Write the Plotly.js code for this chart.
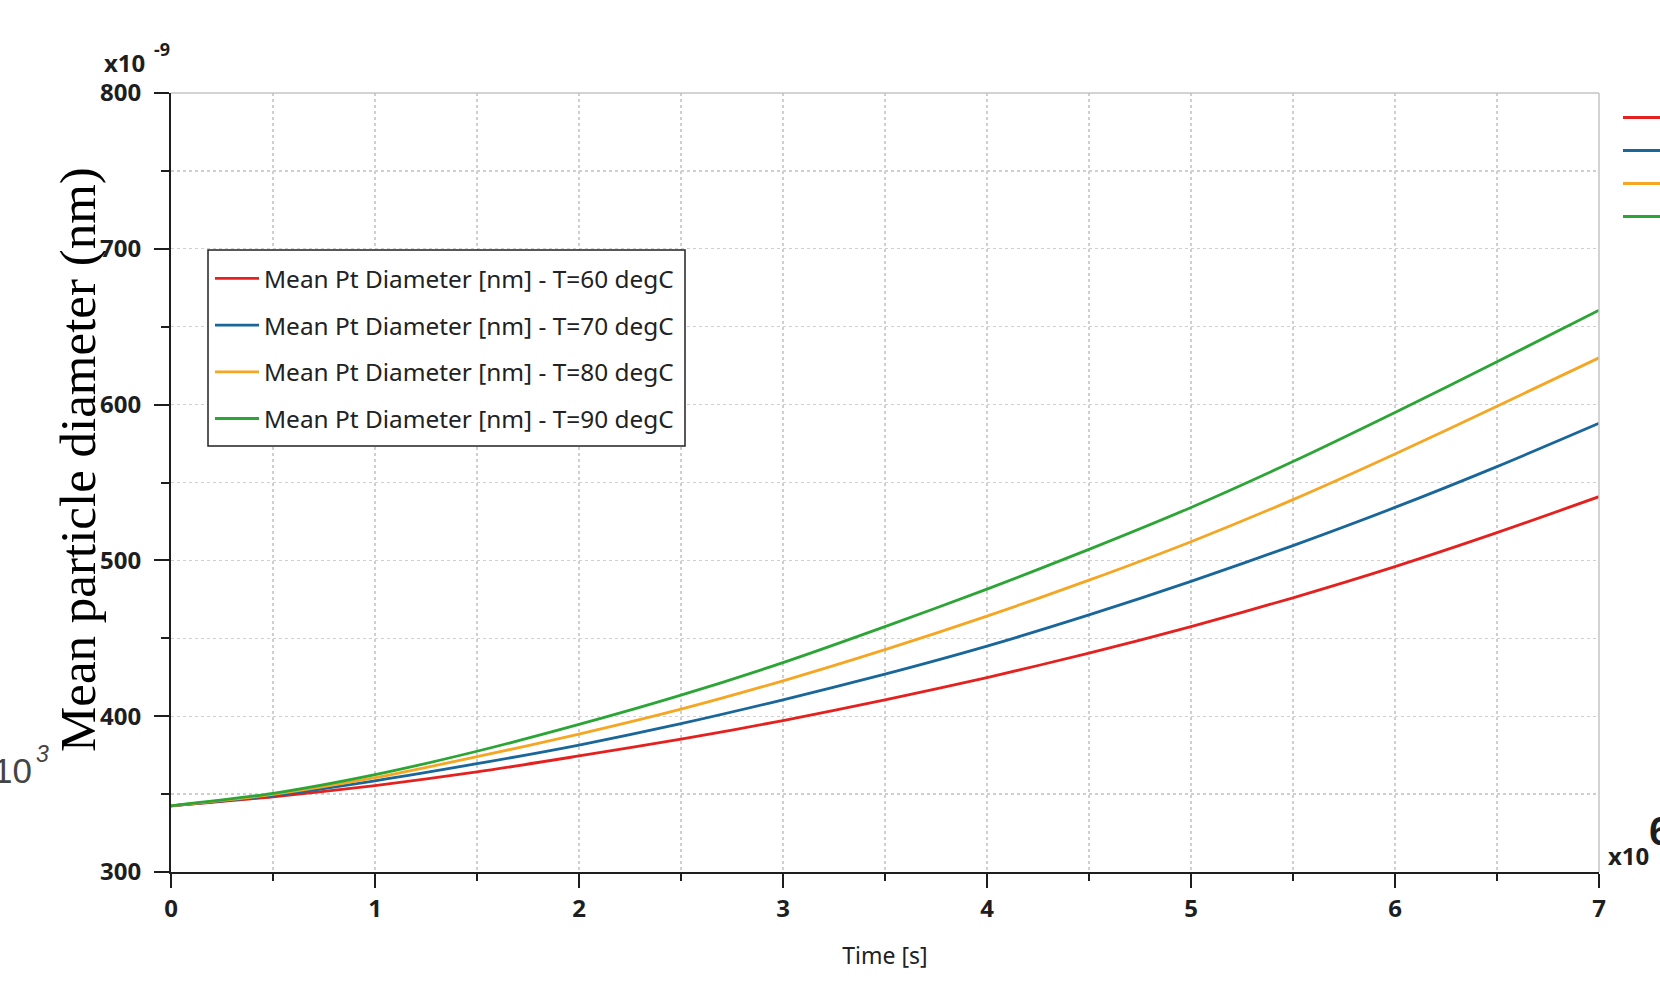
<!DOCTYPE html>
<html>
<head>
<meta charset="utf-8">
<script src="https://cdn.plot.ly/plotly-3.0.1.min.js"></script>
<style>
  html, body { margin: 0; padding: 0; background: #ffffff; }
  #chart { width: 1660px; height: 988px; }
</style>
</head>
<body>
<div id="chart"></div>
<script>
// Time in units of 1e6 s
const timeValues = [0, 0.5, 1, 1.5, 2, 2.5, 3, 3.5, 4, 4.5, 5, 5.5, 6, 6.5, 7];

// Mean Pt diameter (axis units, x1e-9)
const dia60 = [342.5, 348.3, 355.5, 364.2, 374.5, 385.3, 397.2, 410.5, 424.8, 440.5, 457.5, 476.0, 496.0, 517.8, 540.9];
const dia70 = [342.5, 349.2, 358.5, 369.5, 381.5, 395.2, 410.5, 427.0, 445.0, 465.0, 486.5, 509.5, 534.0, 560.2, 588.0];
const dia80 = [342.5, 349.8, 360.5, 374.0, 388.5, 404.5, 422.7, 442.7, 464.2, 487.3, 512.0, 539.0, 568.3, 599.0, 630.0];
const dia90 = [342.5, 350.5, 362.5, 377.5, 394.7, 413.5, 434.4, 457.5, 481.6, 507.1, 534.0, 563.5, 595.0, 627.5, 660.6];

const seriesNames = [
  "Mean Pt Diameter [nm] - T=60 degC",
  "Mean Pt Diameter [nm] - T=70 degC",
  "Mean Pt Diameter [nm] - T=80 degC",
  "Mean Pt Diameter [nm] - T=90 degC"
];
const seriesColors = ["#e4211e", "#19679a", "#f5a623", "#2ba535"];
const seriesData = [dia60, dia70, dia80, dia90];

const xTickVals = [0, 1, 2, 3, 4, 5, 6, 7];
const yTickVals = [300, 400, 500, 600, 700, 800];

const traces = seriesData.map((ys, i) => ({
  x: timeValues,
  y: ys,
  type: "scatter",
  mode: "lines",
  name: seriesNames[i],
  legendgroup: "g" + i,
  line: { color: seriesColors[i], width: 2.8, shape: "spline", smoothing: 0.8 }
}));

const tickFont = { family: "Noto Sans", size: 24, color: "#1e1e1e", weight: 700 };
const gridColor = "#cfcfcf";

// paper-coordinate helpers (plot area: x 171..1599, y 93..872)
const L = 171, R = 1599, T = 93, B = 872;
const px = (v) => (v - L) / (R - L);
const py = (v) => (B - v) / (B - T);

const stubYs = [117.5, 150.5, 183.5, 216.5];
const shapes = [
  { type: "line", xref: "paper", yref: "paper", x0: 0, x1: 1, y0: 1, y1: 1, line: { color: "#c4c4c4", width: 1.5 } },
  { type: "line", xref: "paper", yref: "paper", x0: 1, x1: 1, y0: 0, y1: 1, line: { color: "#c4c4c4", width: 1.5 } },
  // legend frame
  { type: "rect", xref: "paper", yref: "paper", layer: "above",
    x0: px(208), x1: px(685), y0: py(446), y1: py(250),
    fillcolor: "#ffffff", line: { color: "#222222", width: 1.5 } }
];
stubYs.forEach((yy, i) => {
  shapes.push({ type: "line", xref: "paper", yref: "paper", x0: px(1623), x1: px(1665), y0: py(yy), y1: py(yy),
    line: { color: seriesColors[i], width: 2.8 } });
});

const annotations = [
  { text: "Mean particle diameter (nm)", xref: "paper", yref: "paper", x: px(78), y: py(460),
    xanchor: "center", yanchor: "middle", textangle: -90, showarrow: false,
    font: { family: "Liberation Serif", size: 51, color: "#000000" } },
  { text: "x10", xref: "paper", yref: "paper", x: px(147), y: py(63), xanchor: "right", yanchor: "middle",
    showarrow: false, font: { family: "Noto Sans", size: 24, color: "#1e1e1e", weight: 700 } },
  { text: "-9", xref: "paper", yref: "paper", x: px(152), y: py(49), xanchor: "left", yanchor: "middle",
    showarrow: false, font: { family: "Noto Sans", size: 18, color: "#1e1e1e", weight: 700 } },
  { text: "x10", xref: "paper", yref: "paper", x: px(1606), y: py(855), xanchor: "left", yanchor: "middle",
    showarrow: false, font: { family: "Noto Sans", size: 24, color: "#1e1e1e", weight: 700 } },
  { text: "6", xref: "paper", yref: "paper", x: px(1647), y: py(831), xanchor: "left", yanchor: "middle",
    showarrow: false, font: { family: "Liberation Sans", size: 40, color: "#1e1e1e", weight: 700 } },
  { text: "10", xref: "paper", yref: "paper", x: px(34), y: py(770), xanchor: "right", yanchor: "middle",
    showarrow: false, font: { family: "Liberation Sans", size: 35, color: "#444444" } },
  { text: "<i>3</i>", xref: "paper", yref: "paper", x: px(34), y: py(754), xanchor: "left", yanchor: "middle",
    showarrow: false, font: { family: "Liberation Sans", size: 23, color: "#444444" } }
];

const layout = {
  width: 1660,
  height: 988,
  margin: { l: L, r: 1660 - R, t: T, b: 988 - B, pad: 0 },
  paper_bgcolor: "#ffffff",
  plot_bgcolor: "#ffffff",
  showlegend: true,
  legend: {
    x: px(210), y: py(256), xanchor: "left", yanchor: "top",
    bgcolor: "rgba(0,0,0,0)", borderwidth: 0,
    font: { family: "Noto Sans", size: 24.4, color: "#222222" },
    itemwidth: 44,
    traceorder: "grouped", tracegroupgap: 12
  },
  xaxis: {
    range: [0, 7],
    tickvals: xTickVals,
    ticktext: xTickVals.map(String),
    ticks: "outside", ticklen: 14, tickwidth: 2, tickcolor: "#1e1e1e",
    showline: true, linecolor: "#1e1e1e", linewidth: 2,
    showgrid: true, gridcolor: gridColor, griddash: "dot", gridwidth: 1.2,
    zeroline: false,
    tickfont: tickFont,
    ticklabelstandoff: 0,
    minor: { dtick: 0.5, ticks: "outside", ticklen: 7, tickwidth: 2, tickcolor: "#1e1e1e",
             showgrid: true, gridcolor: gridColor, griddash: "dot", gridwidth: 1.2 },
    title: { text: "Time [s]", font: { family: "Noto Sans", size: 23, color: "#222222" }, standoff: 25 }
  },
  yaxis: {
    range: [300, 800],
    tickvals: yTickVals,
    ticktext: yTickVals.map(String),
    ticks: "outside", ticklen: 15, tickwidth: 2, tickcolor: "#1e1e1e",
    showline: true, linecolor: "#1e1e1e", linewidth: 2,
    showgrid: true, gridcolor: gridColor, griddash: "dot", gridwidth: 1.2,
    zeroline: false,
    tickfont: tickFont,
    ticklabelstandoff: 8,
    minor: { dtick: 50, ticks: "outside", ticklen: 8, tickwidth: 2, tickcolor: "#1e1e1e",
             showgrid: true, gridcolor: gridColor, griddash: "dot", gridwidth: 1.2 }
  },
  shapes: shapes,
  annotations: annotations
};

Plotly.newPlot("chart", traces, layout, { displayModeBar: false, staticPlot: true });
</script>
</body>
</html>
